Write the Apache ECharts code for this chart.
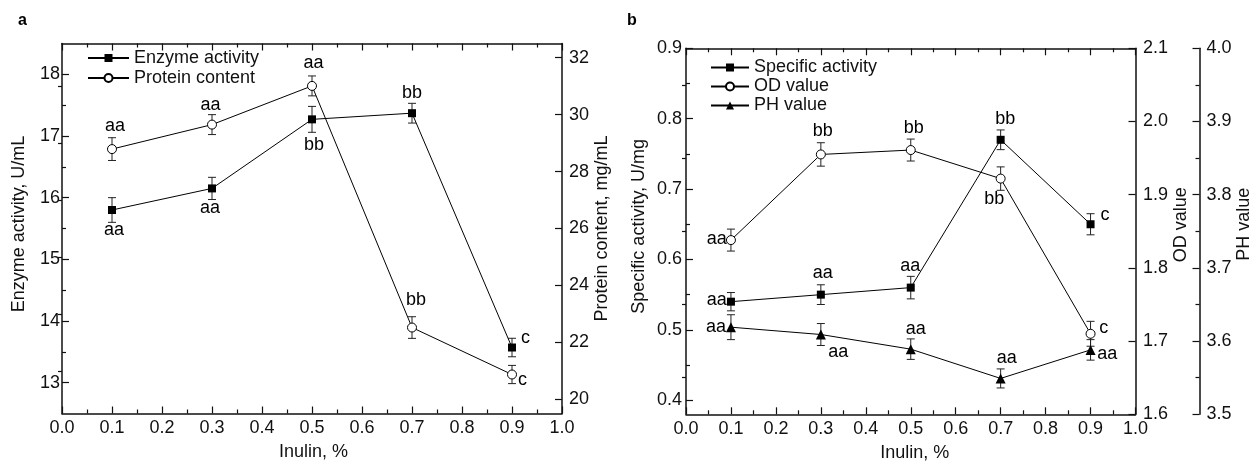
<!DOCTYPE html>
<html><head><meta charset="utf-8">
<script src="https://cdn.jsdelivr.net/npm/echarts@6/dist/echarts.min.js"></script>
<style>html,body{margin:0;padding:0;background:#fff}#c{width:1249px;height:462px}</style>
</head><body><div id="c"></div>
<script>
// ---------------- data ----------------
const inulin = [0.1, 0.3, 0.5, 0.7, 0.9];
const enzymeActivity = [15.80, 16.15, 17.27, 17.37, 13.57];
const enzymeErr      = [0.20, 0.18, 0.21, 0.16, 0.15];
const proteinContent = [28.79, 29.65, 31.01, 22.52, 20.87];
const proteinErr     = [0.40, 0.35, 0.35, 0.38, 0.32];
const specificActivity = [0.540, 0.550, 0.560, 0.770, 0.650];
const specificErr      = [0.013, 0.014, 0.016, 0.014, 0.015];
const odValue = [1.838, 1.955, 1.961, 1.922, 1.710];
const odErr   = [0.015, 0.016, 0.015, 0.016, 0.017];
const phValue = [3.619, 3.609, 3.589, 3.549, 3.588];
const phErr   = [0.017, 0.015, 0.014, 0.013, 0.014];
const enzymeSig   = ['aa', 'aa', 'bb', 'bb', 'c'];
const proteinSig  = ['aa', 'aa', 'aa', 'bb', 'c'];
const specificSig = ['aa', 'aa', 'aa', 'bb', 'c'];
const odSig       = ['aa', 'bb', 'bb', 'bb', 'c'];
const phSig       = ['aa', 'aa', 'aa', 'aa', 'aa'];
const xTicks        = [0, 0.1, 0.2, 0.3, 0.4, 0.5, 0.6, 0.7, 0.8, 0.9, 1.0];
const enzymeTicks   = [13, 14, 15, 16, 17, 18];
const proteinTicks  = [20, 22, 24, 26, 28, 30, 32];
const specificTicks = [0.4, 0.5, 0.6, 0.7, 0.8, 0.9];
const odTicks       = [1.6, 1.7, 1.8, 1.9, 2.0, 2.1];
const phTicks       = [3.5, 3.6, 3.7, 3.8, 3.9, 4.0];

// ---------------- style ----------------
const LINE = '#111';
const FS = 18;
const FONT = '"Liberation Sans", Arial, Helvetica, sans-serif';
// label offsets (px) relative to marker centre
const enzymeOff   = [[2, 20], [-2, 20], [2, 26], [0, -20], [13.5, -9.5]];
const proteinOff  = [[3, -23.5], [-1.5, -20], [1.5, -23], [4, -27.7], [10.5, 6]];
const specificOff = [[-14.3, -1.5], [2, -21.5], [-0.4, -22], [4.5, -20.8], [14.5, -9]];
const odOff       = [[-14.3, -1.5], [2, -23], [3, -22.5], [-6.5, 20], [13.3, -6]];
const phOff       = [[-15, 0], [17.5, 17.8], [5, -20], [6, -20.6], [16.8, 4.6]];

function minorsOf(majors, min, max) {
  const out = [];
  const step = majors[1] - majors[0];
  for (let k = -1; k < majors.length; k++) {
    const v = +(majors[0] + step * (k + 0.5)).toFixed(6);
    if (v > min + 1e-9 && v < max - 1e-9) out.push(v);
  }
  return out;
}
const tickStyle = { color: LINE, width: 1.2 };
function yAxes(o) {
  const base = { type: 'value', gridIndex: o.grid, position: o.pos, offset: o.offset || 0,
    min: o.min, max: o.max, splitLine: { show: false }, minorSplitLine: { show: false } };
  const major = Object.assign({}, base, {
    axisLine: { show: true, onZero: false, lineStyle: { color: LINE, width: 1.5 } },
    axisTick: { show: true, inside: true, length: 7, customValues: o.majors, lineStyle: tickStyle },
    axisLabel: { show: true, customValues: o.majors, formatter: o.fmt, margin: o.margin,
      fontSize: FS, color: '#111', fontFamily: FONT },
    name: o.name, nameLocation: 'middle', nameGap: o.nameGap,
    nameTextStyle: { fontSize: FS, color: '#111', fontFamily: FONT, padding: o.namePad || 0 }
  });
  const minor = Object.assign({}, base, {
    axisLine: { show: false }, axisLabel: { show: false },
    axisTick: { show: true, inside: true, length: 4, customValues: minorsOf(o.majors, o.min, o.max), lineStyle: tickStyle }
  });
  return [major, minor];
}
function xAxes(grid, name, namePad) {
  const base = { type: 'value', gridIndex: grid, min: 0, max: 1, interval: 0.1,
    splitLine: { show: false }, minorSplitLine: { show: false },
    axisLine: { show: true, onZero: false, lineStyle: { color: LINE, width: 1.5 } },
    axisTick: { show: true, inside: true, length: 7, lineStyle: tickStyle },
    minorTick: { show: true, splitNumber: 2, length: 4, lineStyle: tickStyle } };
  const bottom = Object.assign({}, base, { position: 'bottom',
    axisLabel: { show: true, customValues: xTicks, formatter: v => v.toFixed(1), margin: 6,
      fontSize: FS, color: '#111', fontFamily: FONT },
    name: name, nameLocation: 'middle', nameGap: 30,
    nameTextStyle: { fontSize: FS, color: '#111', fontFamily: FONT, padding: namePad } });
  const top = Object.assign({}, base, { position: 'top', axisLabel: { show: false } });
  return [bottom, top];
}
function lineSeries(name, xi, yi, ys, sig, offs, symbol, size, fill) {
  return { type: 'line', name: name, xAxisIndex: xi, yAxisIndex: yi, z: 3,
    symbol: symbol, symbolSize: size, showSymbol: true, clip: false,
    lineStyle: { color: '#000', width: 1 },
    itemStyle: { color: fill, borderColor: '#000', borderWidth: fill === '#fff' ? 1 : 0 },
    emphasis: { disabled: true },
    data: inulin.map((x, i) => ({ value: [x, ys[i]],
      label: { show: true, formatter: sig[i], position: 'inside', offset: offs[i],
        color: '#000', fontSize: FS, fontFamily: FONT, textBorderWidth: 0 } })) };
}
function errSeries(xi, yi, ys, es) {
  return { type: 'custom', xAxisIndex: xi, yAxisIndex: yi, z: 2, silent: true, clip: false,
    data: inulin.map((x, i) => [x, ys[i], es[i]]),
    encode: { x: 0, y: 1 },
    renderItem: (p, api) => {
      const x = api.value(0), y = api.value(1), e = api.value(2);
      const hi = api.coord([x, y + e]), lo = api.coord([x, y - e]);
      const st = { stroke: '#222', lineWidth: 1 };
      return { type: 'group', children: [
        { type: 'line', shape: { x1: hi[0], y1: hi[1], x2: lo[0], y2: lo[1] }, style: st },
        { type: 'line', shape: { x1: hi[0] - 4, y1: hi[1], x2: hi[0] + 4, y2: hi[1] }, style: st },
        { type: 'line', shape: { x1: lo[0] - 4, y1: lo[1], x2: lo[0] + 4, y2: lo[1] }, style: st } ] };
    } };
}

const f0 = v => String(Math.round(v));
const f1 = v => v.toFixed(1);

const option = {
  animation: false,
  backgroundColor: '#fff',
  textStyle: { fontFamily: FONT },
  title: [
    { text: 'a', left: 18, top: 13, padding: 0, textStyle: { fontSize: 16, fontWeight: 'bold', color: '#000', fontFamily: FONT } },
    { text: 'b', left: 627, top: 13, padding: 0, textStyle: { fontSize: 16, fontWeight: 'bold', color: '#000', fontFamily: FONT } }
  ],
  grid: [
    { left: 62, top: 43.5, width: 500, height: 370, outerBoundsMode: 'none', containLabel: false },
    { left: 686, top: 48.3, width: 449.5, height: 366, outerBoundsMode: 'none', containLabel: false }
  ],
  legend: [
    { data: ['Enzyme activity', 'Protein content'], orient: 'vertical', left: 87, top: 49,
      itemWidth: 41, itemHeight: 10, itemGap: 2, padding: 0, selectedMode: false,
      textStyle: { fontSize: FS, color: '#111', fontFamily: FONT } },
    { data: ['Specific activity', 'OD value', 'PH value'], orient: 'vertical', left: 710, top: 58.5,
      itemWidth: 38, itemHeight: 10, itemGap: 1, padding: 0, selectedMode: false,
      textStyle: { fontSize: FS, color: '#111', fontFamily: FONT } }
  ],
  xAxis: [].concat(xAxes(0, 'Inulin, %', [0, 0, 0, 3]), xAxes(1, 'Inulin, %', [0, 0, 0, 8])),
  yAxis: [].concat(
    yAxes({ grid: 0, pos: 'left', min: 12.5, max: 18.5, majors: enzymeTicks, fmt: f0, margin: 2,
      name: 'Enzyme activity, U/mL', nameGap: 34, namePad: [0, 0, 0, 9] }),
    yAxes({ grid: 0, pos: 'right', min: 19.5, max: 32.5, majors: proteinTicks, fmt: f0, margin: 7,
      name: 'Protein content, mg/mL', nameGap: 30 }),
    yAxes({ grid: 1, pos: 'left', min: 0.38, max: 0.9, majors: specificTicks, fmt: f1, margin: 4,
      name: 'Specific activity, U/mg', nameGap: 38, namePad: [0, 0, 0, 10] }),
    yAxes({ grid: 1, pos: 'right', min: 1.6, max: 2.1, majors: odTicks, fmt: f1, margin: 7.5,
      name: 'OD value', nameGap: 37, namePad: [0, 0, 0, 13] }),
    yAxes({ grid: 1, pos: 'right', offset: 64, min: 3.5, max: 4.0, majors: phTicks, fmt: f1, margin: 7,
      name: 'PH value', nameGap: 33, namePad: [0, 0, 0, 14] })
  ),
  series: [
    errSeries(0, 0, enzymeActivity, enzymeErr),
    errSeries(0, 2, proteinContent, proteinErr),
    errSeries(2, 4, specificActivity, specificErr),
    errSeries(2, 6, odValue, odErr),
    errSeries(2, 8, phValue, phErr),
    lineSeries('Enzyme activity', 0, 0, enzymeActivity, enzymeSig, enzymeOff, 'rect', 8, '#000'),
    lineSeries('Protein content', 0, 2, proteinContent, proteinSig, proteinOff, 'circle', 9, '#fff'),
    lineSeries('Specific activity', 2, 4, specificActivity, specificSig, specificOff, 'rect', 8, '#000'),
    lineSeries('OD value', 2, 6, odValue, odSig, odOff, 'circle', 9, '#fff'),
    lineSeries('PH value', 2, 8, phValue, phSig, phOff, 'triangle', 10, '#000')
  ]
};
const chart = echarts.init(document.getElementById('c'), null, { renderer: 'canvas' });
chart.setOption(option);
</script>
</body></html>
